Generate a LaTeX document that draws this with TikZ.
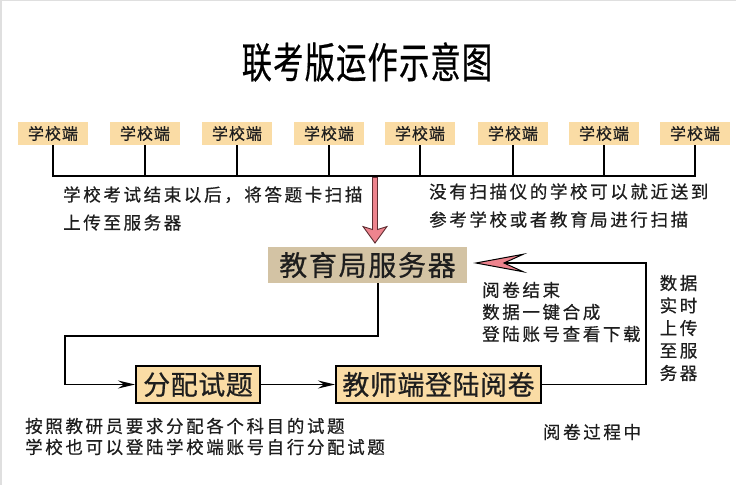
\documentclass[tikz,border=0pt]{standalone}
\usepackage{fontspec}
\usetikzlibrary{arrows.meta}
\newfontfamily\titlefont[LetterSpace=4,FakeBold=0.6]{Noto Sans CJK SC}
\newfontfamily\notefont[LetterSpace=15,FakeBold=0.6]{Noto Sans CJK SC}
\newfontfamily\tagfont[LetterSpace=6,FakeBold=0.6]{Noto Sans CJK SC}
\newfontfamily\boxfont[LetterSpace=2,FakeBold=0.6]{Noto Sans CJK SC}
\newfontfamily\srvfont[LetterSpace=6,FakeBold=0.6]{Noto Sans CJK SC}
\definecolor{schooltan}{RGB}{250,220,165}
\definecolor{khaki}{RGB}{211,195,164}
\definecolor{pinkfill}{RGB}{238,132,142}
\definecolor{pinkedge}{RGB}{95,45,50}
\definecolor{ink}{RGB}{30,30,30}
\begin{document}
\begin{tikzpicture}[x=1pt,y=1pt,
  school/.style={fill=schooltan,minimum width=70pt,minimum height=23pt,inner sep=0pt,text=ink,font=\tagfont\fontsize{16}{18}\selectfont},
  task/.style={draw=black,line width=1.6pt,fill=schooltan,minimum height=37pt,inner sep=0pt,text=ink,font=\boxfont\fontsize{27}{30}\selectfont},
  note/.style={align=left,inner sep=0pt,text=ink,font=\notefont\fontsize{17.5}{#1}\selectfont},
  wire/.style={line width=1.6pt},
  dart/.style={-{Stealth[length=17pt,width=8pt,inset=6pt]}}]
\useasboundingbox (0,0) rectangle (736,-485);
\fill[gray!25] (0,0) rectangle (2,-485);
\fill[gray!25] (0,0) rectangle (736,-1);
\node[font=\titlefont\fontsize{42}{46}\selectfont,xscale=0.72,transform shape] (title) at (367,-62) {联考版运作示意图};
\node[school] (s1) at (53,-133.5) {学校端};
\node[school] (s2) at (145,-133.5) {学校端};
\node[school] (s3) at (237,-133.5) {学校端};
\node[school] (s4) at (329,-133.5) {学校端};
\node[school] (s5) at (420,-133.5) {学校端};
\node[school] (s6) at (513,-133.5) {学校端};
\node[school] (s7) at (604,-133.5) {学校端};
\node[school] (s8) at (695,-133.5) {学校端};
\coordinate (bus) at (0,-176);
\draw[wire] (s1.south) |- (bus -| s8.south) -- (s8.south);
\draw[wire] (s2.south) -- (s2.south |- bus);
\draw[wire] (s3.south) -- (s3.south |- bus);
\draw[wire] (s4.south) -- (s4.south |- bus);
\draw[wire] (s5.south) -- (s5.south |- bus);
\draw[wire] (s6.south) -- (s6.south |- bus);
\draw[wire] (s7.south) -- (s7.south |- bus);
\node[note=28,anchor=west] (upload) at (63,-208.5) {学校考试结束以后，将答题卡扫描\\上传至服务器};
\node[note=28,anchor=west] (nearby) at (429,-205.5) {没有扫描仪的学校可以就近送到\\参考学校或者教育局进行扫描};
\node[fill=khaki,minimum width=199pt,minimum height=36pt,inner sep=0pt,text=ink,font=\srvfont\fontsize{28}{32}\selectfont] (srv) at (367.5,-265) {教育局服务器};
\coordinate (drop) at (375,-177);
\draw[line width=5.5pt,pinkedge,-{Stealth[length=18pt,width=26pt,inset=4pt,fill=pinkfill,line width=0.9pt]},shorten >=3pt] (drop) -- (drop |- srv.north);
\draw[line width=3.6pt,pinkfill,shorten >=16pt,shorten <=1pt] (drop) -- (drop |- srv.north);
\node[task,minimum width=124.4pt] (fp) at (198,-384.5) {分配试题};
\node[task,minimum width=205.4pt] (tr) at (438.5,-384.5) {教师端登陆阅卷};
\coordinate (turn) at (65,-336);
\draw[wire,dart] ([xshift=10.5pt]srv.south) |- (turn) |- (fp.west);
\draw[wire,dart] (fp) -- (tr);
\coordinate (back) at (646,-263);
\draw[wire,-{Stealth[length=54pt,width=20pt,inset=22pt,fill=pinkfill,line width=1pt]},shorten >=6pt] (tr.east) -| (back) -- (back -| srv.east);
\node[note=22,anchor=west] (done) at (482,-312) {阅卷结束\\数据一键合成\\登陆账号查看下载};
\node[note=22.5] (sync) at (678.5,-328) {数据\\实时\\上传\\至服\\务器};
\node[note=22] (live) at (592,-432) {阅卷过程中};
\node[note=21,anchor=west] (rule) at (25,-436.5) {按照教研员要求分配各个科目的试题\\学校也可以登陆学校端账号自行分配试题};
\end{tikzpicture}
\end{document}
